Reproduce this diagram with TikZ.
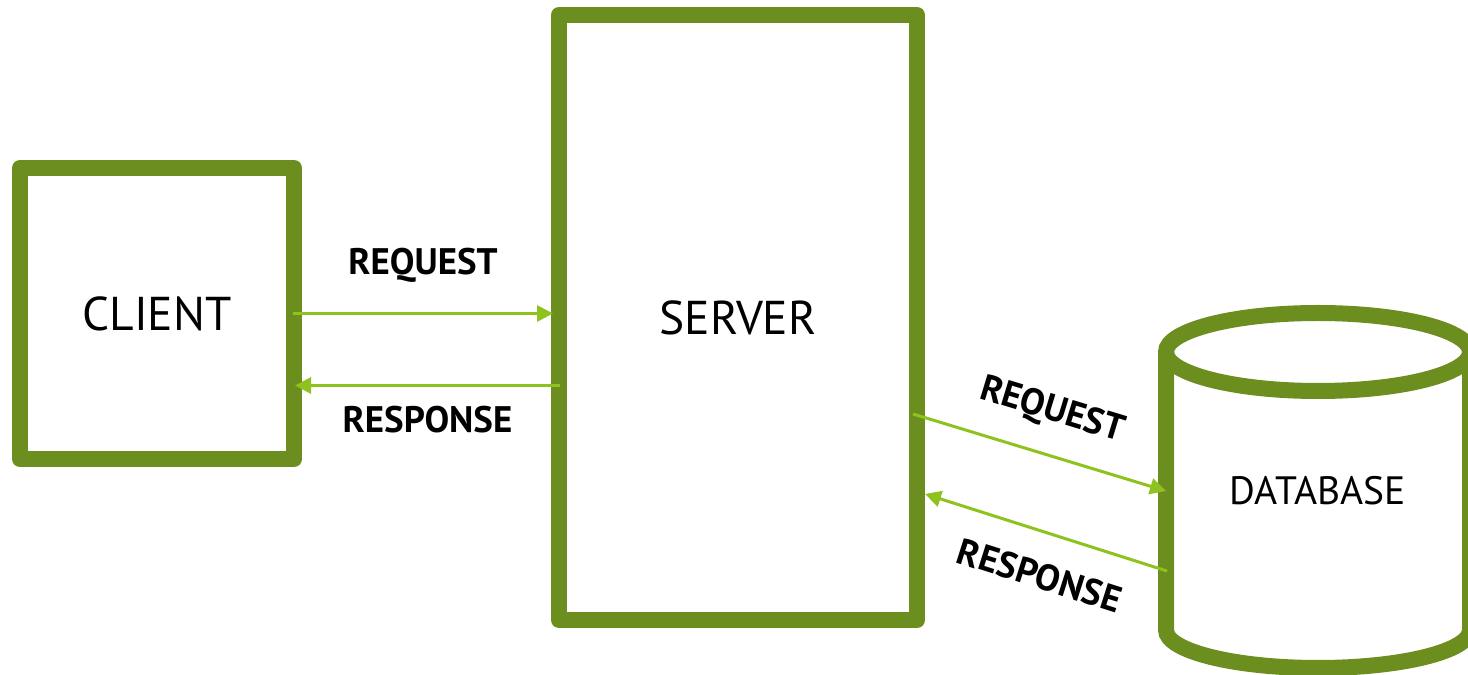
\documentclass[tikz,border=0pt]{standalone}
\usepackage{fontspec}
\setmainfont{PT Sans}
\usetikzlibrary{arrows.meta}

\definecolor{boxgreen}{HTML}{6B8E1F}
\definecolor{linkgreen}{HTML}{8DC21F}

\tikzset{
  box/.style={draw=boxgreen, line width=0.32cm, line join=round, fill=white,
    outer sep=0pt, inner sep=0pt, font=\fontsize{27}{32}\selectfont},
  link/.style={draw=linkgreen, line width=0.06cm},
  tip/.tip={Triangle[length=0.32cm,width=0.32cm]},
  lbl/.style={font=\fontsize{21}{25}\selectfont\bfseries, text=black}
}

\begin{document}
\begin{tikzpicture}
    \useasboundingbox (0,0) rectangle (29.36,13.48);
    \clip (0,0) rectangle (29.36,13.48);
    % boxes
    \node[box, minimum width=5.48cm, minimum height=5.82cm] (client) at (3.14,7.21) {CLIENT};
    \node[box, minimum width=7.16cm, minimum height=12.1cm] (server) at (14.76,7.13) {SERVER};
    % database cylinder
    \node[outer sep=0pt, inner sep=0pt, minimum width=6.08cm, minimum height=5.56cm,
      font=\fontsize{22.5}{27}\selectfont] (db) at (26.36,3.66) {DATABASE};
    \draw[draw=boxgreen, line width=0.32cm]
      (db.north west) -- (db.south west) arc (180:360:3.04cm and 0.76cm) -- (db.north east);
    \draw[draw=boxgreen, line width=0.32cm] (db.north) ellipse (3.04cm and 0.78cm);
    % client <-> server
    \draw[link, -tip] ([xshift=-0.02cm]client.east) -- ([xshift=-0.12cm]client.east -| server.west)
      node[lbl, midway, yshift=0.96cm] {REQUEST};
    \draw[link, -tip] ([xshift=0.02cm,yshift=-1.36cm]server.west) -- ([xshift=0.02cm,yshift=-1.36cm]server.west -| client.east)
      node[lbl, midway, yshift=-0.68cm] {RESPONSE};
    % server <-> database
    \draw[link, -tip] ([xshift=-0.08cm,yshift=-1.93cm]server.east) -- (db.west)
      node[lbl, midway, sloped, yshift=0.86cm] {REQUEST};
    \draw[link, tip-] ([xshift=0.16cm,yshift=-3.53cm]server.east) -- ([xshift=0.02cm,yshift=-1.6cm]db.west)
      node[lbl, midway, sloped, yshift=-0.86cm, xshift=0.14cm] {RESPONSE};
\end{tikzpicture}
\end{document}
